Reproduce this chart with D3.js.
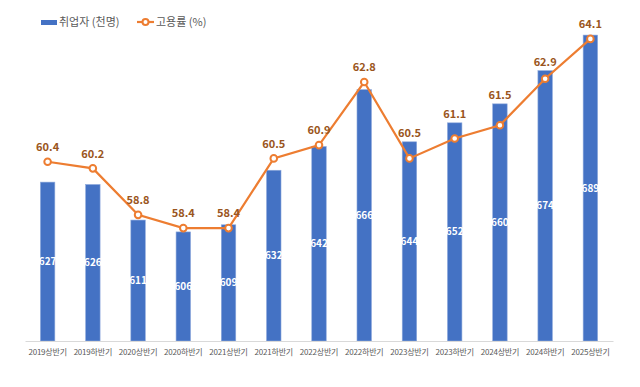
<!DOCTYPE html>
<html>
<head>
<meta charset="utf-8">
<script src="https://cdn.jsdelivr.net/npm/d3@7"></script>
<style>
  body { margin: 0; background: #fff; }
  text { font-family: "Noto Sans CJK KR", "Noto Sans", sans-serif; }
</style>
</head>
<body>
<div id="chart"></div>
<script>
  // data
  var categories = ["2019상반기","2019하반기","2020상반기","2020하반기","2021상반기","2021하반기",
                    "2022상반기","2022하반기","2023상반기","2023하반기","2024상반기","2024하반기","2025상반기"];
  var employed   = [627, 626, 611, 606, 609, 632, 642, 666, 644, 652, 660, 674, 689];
  var empRate    = [60.4, 60.2, 58.8, 58.4, 58.4, 60.5, 60.9, 62.8, 60.5, 61.1, 61.5, 62.9, 64.1];

  var W = 640, H = 387;
  var margin = {top: 9, right: 27, bottom: 46, left: 25};
  var iw = W - margin.left - margin.right;
  var ih = H - margin.top - margin.bottom;

  var svg = d3.select("#chart").append("svg").attr("width", W).attr("height", H);
  var g = svg.append("g").attr("transform", "translate(" + margin.left + "," + margin.top + ")");

  var x  = d3.scaleBand().domain(categories).range([0, iw]).paddingInner(0.68).paddingOuter(0.34);
  var yB = d3.scaleLinear().domain([560, 700]).range([ih, 0]);
  var yL = d3.scaleLinear().domain([55, 65]).range([ih, 0]);
  var cx = function(i) { return x(categories[i]) + x.bandwidth() / 2; };

  // bars
  g.selectAll("rect.bar").data(employed).enter().append("rect")
      .attr("class", "bar")
      .attr("x", function(d, i) { return x(categories[i]); })
      .attr("y", function(d) { return yB(d); })
      .attr("width", x.bandwidth())
      .attr("height", function(d) { return ih - yB(d); })
      .attr("fill", "#4472C4")
      .attr("stroke", "#8faadc").attr("stroke-width", 0.6);

  g.selectAll("text.barlab").data(employed).enter().append("text")
      .attr("class", "barlab")
      .attr("x", function(d, i) { return cx(i); })
      .attr("y", function(d) { return (yB(d) + ih) / 2; })
      .attr("dy", "0.35em")
      .attr("text-anchor", "middle")
      .attr("font-size", 10).attr("font-weight", "bold")
      .attr("fill", "#fff")
      .text(function(d) { return d; });

  // x axis
  var xAxis = g.append("g").attr("transform", "translate(0," + ih + ")")
      .call(d3.axisBottom(x).tickSize(0).tickPadding(8));
  xAxis.select(".domain").attr("stroke", "#d9d9d9");
  xAxis.selectAll("text").attr("font-size", 8).attr("fill", "#595959")
      .attr("letter-spacing", "-0.2px")
      .style("font-family", "'Noto Sans CJK KR', sans-serif");

  // line
  var line = d3.line().x(function(d, i) { return cx(i); }).y(function(d) { return yL(d); });
  g.append("path").datum(empRate)
      .attr("d", line).attr("fill", "none")
      .attr("stroke", "#ED7D31").attr("stroke-width", 2.2);

  g.selectAll("circle.pt").data(empRate).enter().append("circle")
      .attr("class", "pt")
      .attr("cx", function(d, i) { return cx(i); })
      .attr("cy", function(d) { return yL(d); })
      .attr("r", 3.3)
      .attr("fill", "#fff").attr("stroke", "#ED7D31").attr("stroke-width", 2);

  // labels sit above the point, pushed up so they clear the bar top
  g.selectAll("text.ptlab").data(empRate).enter().append("text")
      .attr("class", "ptlab")
      .attr("x", function(d, i) { return cx(i); })
      .attr("y", function(d, i) { return Math.min(yL(d) - 14.5, yB(employed[i]) - 8.5); })
      .attr("dy", "0.35em")
      .attr("text-anchor", "middle")
      .attr("font-size", 11).attr("font-weight", "bold")
      .attr("fill", "#9a5520")
      .text(function(d) { return d.toFixed(1); });

  // legend
  var lg = svg.append("g").attr("transform", "translate(41,22)");
  lg.append("rect").attr("x", 0).attr("y", -2).attr("width", 16).attr("height", 5).attr("fill", "#4472C4");
  lg.append("text").attr("x", 18).attr("y", 0).attr("dy", "0.35em")
      .attr("font-size", 11).attr("fill", "#595959").text("취업자 (천명)");
  lg.append("line").attr("x1", 96).attr("x2", 113).attr("y1", 0).attr("y2", 0)
      .attr("stroke", "#ED7D31").attr("stroke-width", 2.2);
  lg.append("circle").attr("cx", 104.5).attr("cy", 0).attr("r", 3)
      .attr("fill", "#fff").attr("stroke", "#ED7D31").attr("stroke-width", 2);
  lg.append("text").attr("x", 115).attr("y", 0).attr("dy", "0.35em")
      .attr("font-size", 11).attr("fill", "#595959").text("고용률 (%)");
</script>
</body>
</html>
